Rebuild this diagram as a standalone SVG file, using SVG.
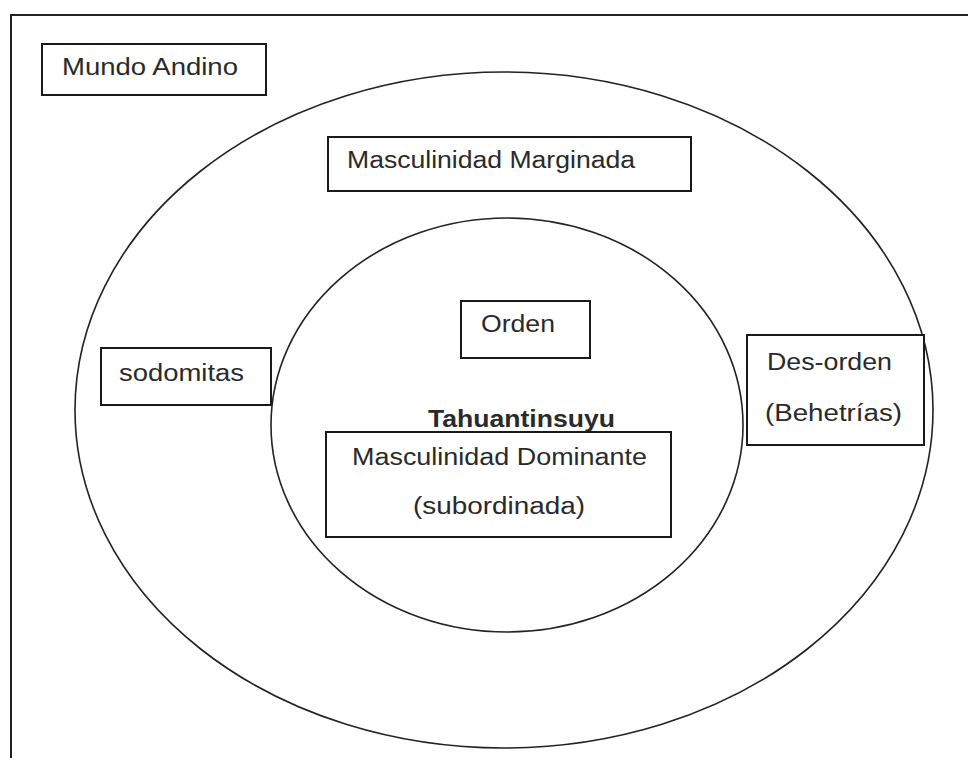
<svg xmlns="http://www.w3.org/2000/svg" width="968" height="758" viewBox="0 0 968 758">
<style>
.bx{fill:#fff;stroke:#1a1a1a;stroke-width:2}
.el{fill:none;stroke:#222;stroke-width:1.6}
.t{font-family:"Liberation Sans",Arial,sans-serif;font-size:23px;fill:#2a2a2a}
.b{font-weight:bold}
</style>
<rect width="968" height="758" fill="#fff"/>
<g id="frame">
<path d="M11,758 V15 H968" fill="none" stroke="#222" stroke-width="2"/>
</g>
<g id="mundo-andino">
<ellipse class="el" cx="504" cy="410" rx="429" ry="338"/>
<rect class="bx" x="42" y="44" width="224" height="51"/>
<text class="t" x="62" y="75" textLength="176" lengthAdjust="spacingAndGlyphs">Mundo Andino</text>
</g>
<g id="masculinidad-marginada">
<rect class="bx" x="328" y="137" width="363" height="54"/>
<text class="t" x="347" y="168" textLength="288" lengthAdjust="spacingAndGlyphs">Masculinidad Marginada</text>
</g>
<g id="tahuantinsuyu">
<ellipse class="el" cx="507" cy="425" rx="236" ry="207"/>
<text class="t b" x="428" y="427" textLength="187" lengthAdjust="spacingAndGlyphs">Tahuantinsuyu</text>
</g>
<g id="sodomitas">
<rect class="bx" x="101" y="348" width="170" height="57"/>
<text class="t" x="119" y="381" textLength="125" lengthAdjust="spacingAndGlyphs">sodomitas</text>
</g>
<g id="des-orden">
<rect class="bx" x="747" y="335" width="177" height="110"/>
<text class="t" x="767" y="370" textLength="125" lengthAdjust="spacingAndGlyphs">Des-orden</text>
<text class="t" x="765" y="421" textLength="137" lengthAdjust="spacingAndGlyphs">(Behetrías)</text>
</g>
<g id="orden">
<rect class="bx" x="461" y="301" width="129" height="57"/>
<text class="t" x="481" y="332" textLength="74" lengthAdjust="spacingAndGlyphs">Orden</text>
</g>
<g id="masculinidad-dominante">
<rect class="bx" x="326" y="432" width="345" height="105"/>
<text class="t" x="352" y="465" textLength="295" lengthAdjust="spacingAndGlyphs">Masculinidad Dominante</text>
<text class="t" x="413" y="514" textLength="172" lengthAdjust="spacingAndGlyphs">(subordinada)</text>
</g>
<g id="connectors"></g>
</svg>
